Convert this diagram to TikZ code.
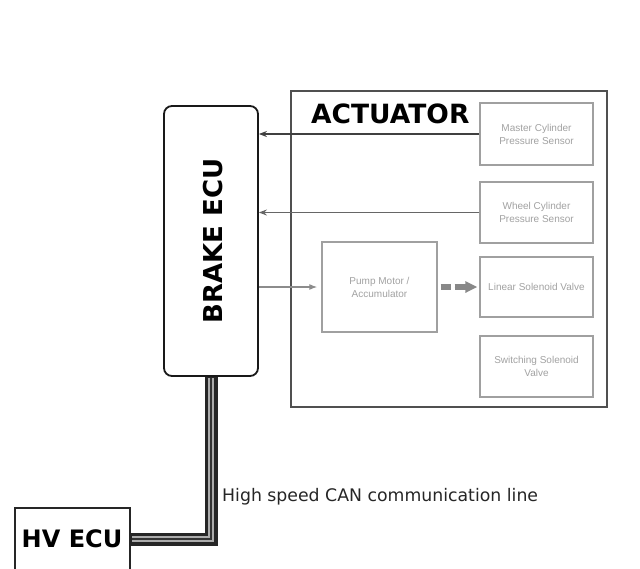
\documentclass[tikz,border=0pt]{standalone}
\usepackage{fontspec}
\setmainfont{DejaVu Sans}
\newfontfamily\labfont{Liberation Sans}
\usetikzlibrary{arrows.meta}
\definecolor{boxline}{HTML}{A0A0A0}
\definecolor{labtext}{HTML}{A2A2A2}
\definecolor{actline}{HTML}{505050}
\definecolor{thickgray}{HTML}{888888}
\tikzset{
  ecubox/.style={draw=black!90, line width=1.8, rounded corners=8, minimum width=94, minimum height=270, inner sep=0},
  actbox/.style={draw=actline, line width=2, minimum width=316, minimum height=316, inner sep=0},
  partbox/.style={draw=boxline, line width=1.4, minimum width=113, inner sep=0, align=center,
    text=labtext, font=\labfont\fontsize{10}{13}\selectfont},
  hvbox/.style={draw=black!85, line width=1.6, minimum width=115, minimum height=62, inner sep=0},
  bigtitle/.style={font=\bfseries\fontsize{26}{30}\selectfont, inner sep=0},
  sigline/.style={line width=1.2},
  tipk/.style={-{Stealth[length=8,width=6]}},
}
\begin{document}
\begin{tikzpicture}[x=1pt,y=-1pt]
\useasboundingbox (0,0) rectangle (640,568);
\clip (0,0) rectangle (640,568);
\fill[white] (0,0) rectangle (640,568);

% actuator frame
\node[actbox] (act) at (449,249) {};
\node[bigtitle, anchor=west, font=\bfseries\fontsize{26.5}{30}\selectfont] (acttitle) at (311,114) {ACTUATOR};

% parts
\node[partbox, minimum height=62] (mcps) at (536.5,134) {Master Cylinder\\Pressure Sensor};
\node[partbox, minimum height=61] (wcps) at (536.5,212.5) {Wheel Cylinder\\Pressure Sensor};
\node[partbox, minimum height=60] (lsv) at (536.5,287) {Linear Solenoid Valve};
\node[partbox, minimum height=61] (ssv) at (536.5,366.5) {Switching Solenoid\\Valve};
\node[partbox, minimum width=115, minimum height=90] (pump) at (379.5,287) {Pump Motor /\\Accumulator};

% brake ECU
\node[ecubox] (ecu) at (211,241) {};
\node[bigtitle, rotate=90] (ecutitle) at (213,241) {BRAKE ECU};

% HV ECU
\node[hvbox] (hv) at (72.5,539) {};
\node[bigtitle, font=\bfseries\fontsize{24}{28}\selectfont] (hvtitle) at (72,539) {HV ECU};

% sensor signal lines
\draw[sigline, draw=black!75, tipk] (mcps.west) -- (mcps.west -| ecu.east);
\draw[sigline, draw=black!60, tipk] (wcps.west) -- (wcps.west -| ecu.east);
% ECU to pump
\draw[sigline, draw=black!45, -{Latex[length=8,width=6]}] (pump.west -| ecu.east) -- ([xshift=-4]pump.west);
% thick dashed arrow pump -> linear valve
\draw[line width=5.5, draw=thickgray] ([xshift=3]pump.east) -- ([xshift=13]pump.east);
\draw[line width=5.5, draw=thickgray, fill=thickgray, -{Triangle[length=12pt,width=11pt]}] ([xshift=17]pump.east) -- ([xshift=-2]lsv.west);

% CAN line
\draw[line width=13, draw=black!85, line join=miter] (ecu.south) |- (hv.east);
\draw[line width=6.5, draw=gray!65, line join=miter] ([yshift=-1]ecu.south) |- ([xshift=1]hv.east);
\draw[line width=2.5, draw=black!80, line join=miter] ([yshift=-1]ecu.south) |- ([xshift=1]hv.east);
\node[anchor=west, inner sep=0, font=\fontsize{17.3}{20}\selectfont, text=black!85] (canlabel) at (222,497) {High speed CAN communication line};
\end{tikzpicture}
\end{document}
